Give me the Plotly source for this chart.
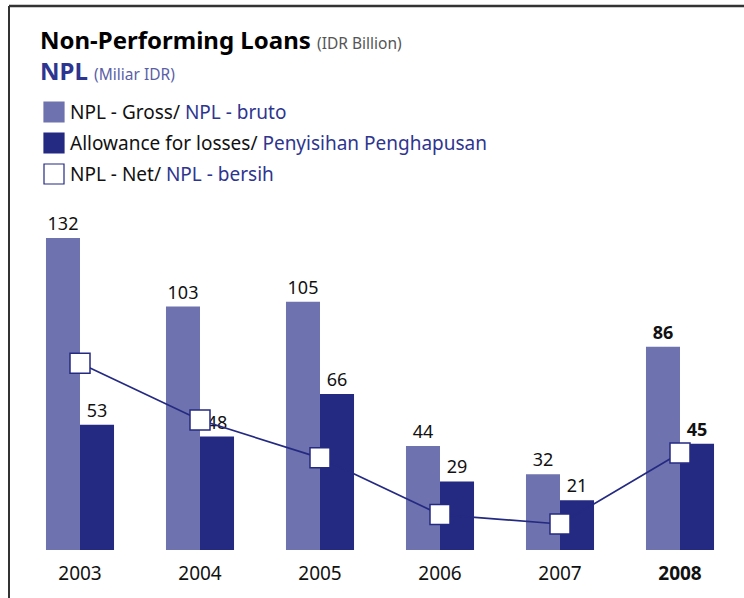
import plotly.graph_objects as go

years = ["2003", "2004", "2005", "2006", "2007", "2008"]
npl_gross = [132, 103, 105, 44, 32, 86]
allowance = [53, 48, 66, 29, 21, 45]
npl_net = [79, 55, 39, 15, 11, 41]

GROSS = "#6e72ae"
ALLOW = "#242a82"
BLUE = "#2e3590"
FONT = "Noto Sans"

W, H = 744, 598
TOP, BOT = 200, 48
PLOT_H = H - TOP - BOT


def px(x):
    return x / W


def py(y):
    # pixel y (from top) -> paper y
    return (H - BOT - y) / PLOT_H


xs = list(range(len(years)))
tick_text = years[:-1] + ["<b>" + years[-1] + "</b>"]
gross_txt = [str(v) for v in npl_gross[:-1]] + ["<b>%d</b>" % npl_gross[-1]]
allow_txt = [str(v) for v in allowance[:-1]] + ["<b>%d</b>" % allowance[-1]]

fig = go.Figure()
fig.add_trace(go.Bar(x=xs, y=npl_gross, marker=dict(color=GROSS, line_width=0),
                     text=gross_txt, textposition="outside", cliponaxis=False,
                     textfont=dict(size=18, color="#111"), offsetgroup="a"))
fig.add_trace(go.Bar(x=xs, y=allowance, marker=dict(color=ALLOW, line_width=0),
                     text=allow_txt, textposition="outside", cliponaxis=False,
                     textfont=dict(size=18, color="#111"), offsetgroup="b"))
fig.add_trace(go.Scatter(x=xs, y=npl_net, mode="lines+markers",
                         line=dict(color=ALLOW, width=1.7),
                         marker=dict(symbol="square", size=20, color="white",
                                     line=dict(color=ALLOW, width=1.5)),
                         cliponaxis=False))

# per-unit spacing of 120px, first category at 80px
fig.update_xaxes(range=[-80 / 120, (W - 80) / 120], tickvals=xs, ticktext=tick_text,
                 showgrid=False, zeroline=False, showline=False, ticks="",
                 ticklabelstandoff=10, tickfont=dict(size=19, color="#111"))
fig.update_yaxes(range=[0, PLOT_H / (312 / 132)], visible=False)

shapes = [
    dict(type="line", xref="paper", yref="paper", x0=px(9), x1=px(W + 5),
         y0=py(6), y1=py(6), line=dict(color="#333", width=2.5)),
    dict(type="line", xref="paper", yref="paper", x0=px(9), x1=px(9),
         y0=py(6), y1=py(H + 5), line=dict(color="#333", width=2)),
]
legend_items = [
    (GROSS, GROSS, "NPL - Gross/ ", "NPL - bruto", 112),
    (ALLOW, ALLOW, "Allowance for losses/ ", "Penyisihan Penghapusan", 143),
    ("white", ALLOW, "NPL - Net/ ", "NPL - bersih", 174),
]
annotations = [
    dict(text="<b>Non-Performing Loans</b> <span style='font-size:15.5px;color:#555'>(IDR Billion)</span>",
         x=px(38), y=py(39), font=dict(size=24, color="#000")),
    dict(text="<b>NPL</b> <span style='font-size:15.5px;color:#5a60a8'>(Miliar IDR)</span>",
         x=px(38), y=py(70), font=dict(size=24, color=BLUE)),
]
for fill, edge, t1, t2, yc in legend_items:
    shapes.append(dict(type="rect", xref="paper", yref="paper",
                       x0=px(44), x1=px(64), y0=py(yc - 10), y1=py(yc + 10),
                       fillcolor=fill, line=dict(color=edge, width=1.2)))
    annotations.append(dict(text=t1 + "<span style='color:%s'>%s</span>" % (BLUE, t2),
                            x=px(68), y=py(yc), font=dict(size=19, color="#111")))
for a in annotations:
    a.update(xref="paper", yref="paper", xanchor="left", yanchor="middle",
             showarrow=False, font_family=FONT)

fig.update_layout(
    width=W, height=H, barmode="group", bargap=0.433, bargroupgap=0,
    margin=dict(l=0, r=0, t=TOP, b=BOT),
    plot_bgcolor="white", paper_bgcolor="white", showlegend=False,
    font=dict(family=FONT, color="#111"),
    shapes=shapes, annotations=annotations,
)

fig.write_html("out.html", config={"displayModeBar": False},
               post_script="document.body.style.margin='0';document.body.style.overflow='hidden';")
